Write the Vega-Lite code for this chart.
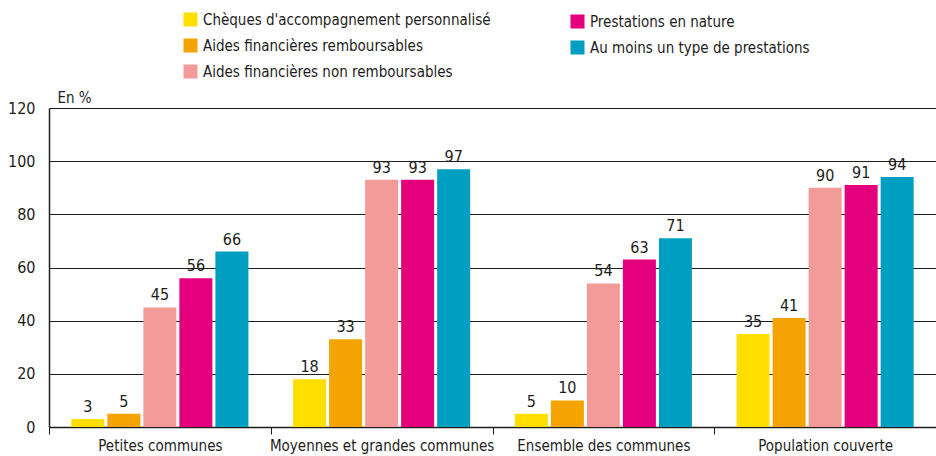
{
  "$schema": "https://vega.github.io/schema/vega-lite/v6.json",
  "width": 887,
  "height": 319,
  "autosize": {"type": "none"},
  "padding": {"left": 49, "top": 108, "right": 0, "bottom": 29},
  "background": "white",
  "config": {
    "view": {"stroke": null},
    "font": "DejaVu Sans Condensed, sans-serif",
    "axis": {"labelFont": "DejaVu Sans Condensed, sans-serif", "labelFontSize": 16, "labelColor": "#1d1d1b", "titleFont": "DejaVu Sans Condensed, sans-serif", "titleColor": "#1d1d1b", "labelLimit": 0},
    "legend": {"labelFont": "DejaVu Sans Condensed, sans-serif", "labelFontSize": 15, "labelColor": "#1d1d1b", "symbolType": "square", "symbolSize": 196, "symbolStrokeWidth": 0, "rowPadding": 10, "labelOffset": 5, "title": null, "labelLimit": 400}
  },
  "data": {
    "values": [
      {"groupe": "Petites communes", "serie": "Chèques d'accompagnement personnalisé", "valeur": 3},
      {"groupe": "Petites communes", "serie": "Aides financières remboursables", "valeur": 5},
      {"groupe": "Petites communes", "serie": "Aides financières non remboursables", "valeur": 45},
      {"groupe": "Petites communes", "serie": "Prestations en nature", "valeur": 56},
      {"groupe": "Petites communes", "serie": "Au moins un type de prestations", "valeur": 66},
      {"groupe": "Moyennes et grandes communes", "serie": "Chèques d'accompagnement personnalisé", "valeur": 18},
      {"groupe": "Moyennes et grandes communes", "serie": "Aides financières remboursables", "valeur": 33},
      {"groupe": "Moyennes et grandes communes", "serie": "Aides financières non remboursables", "valeur": 93},
      {"groupe": "Moyennes et grandes communes", "serie": "Prestations en nature", "valeur": 93},
      {"groupe": "Moyennes et grandes communes", "serie": "Au moins un type de prestations", "valeur": 97},
      {"groupe": "Ensemble des communes", "serie": "Chèques d'accompagnement personnalisé", "valeur": 5},
      {"groupe": "Ensemble des communes", "serie": "Aides financières remboursables", "valeur": 10},
      {"groupe": "Ensemble des communes", "serie": "Aides financières non remboursables", "valeur": 54},
      {"groupe": "Ensemble des communes", "serie": "Prestations en nature", "valeur": 63},
      {"groupe": "Ensemble des communes", "serie": "Au moins un type de prestations", "valeur": 71},
      {"groupe": "Population couverte", "serie": "Chèques d'accompagnement personnalisé", "valeur": 35},
      {"groupe": "Population couverte", "serie": "Aides financières remboursables", "valeur": 41},
      {"groupe": "Population couverte", "serie": "Aides financières non remboursables", "valeur": 90},
      {"groupe": "Population couverte", "serie": "Prestations en nature", "valeur": 91},
      {"groupe": "Population couverte", "serie": "Au moins un type de prestations", "valeur": 94}
    ]
  },
  "encoding": {
    "x": {
      "field": "groupe", "type": "nominal",
      "sort": ["Petites communes", "Moyennes et grandes communes", "Ensemble des communes", "Population couverte"],
      "scale": {"paddingInner": 0, "paddingOuter": 0},
      "axis": {"title": null, "labelAngle": 0, "labelFontSize": 15, "tickBand": "extent", "tickSize": 7, "tickColor": "#1d1d1b", "domainColor": "#1d1d1b", "domainWidth": 1.5, "labelPadding": 4, "grid": false}
    },
    "xOffset": {
      "field": "serie", "type": "nominal",
      "scale": {"domain": ["Chèques d'accompagnement personnalisé", "Aides financières remboursables", "Aides financières non remboursables", "Prestations en nature", "Au moins un type de prestations"], "paddingInner": 0.083, "paddingOuter": 0.62}
    },
    "y": {
      "field": "valeur", "type": "quantitative",
      "scale": {"domain": [0, 120], "nice": false},
      "axis": {"values": [0, 20, 40, 60, 80, 100, 120], "grid": true, "gridColor": "#1d1d1b", "gridWidth": 1, "tickSize": 0, "labelPadding": 14, "domainColor": "#1d1d1b", "domainWidth": 1.5, "title": "En %", "titleAngle": 0, "titleAlign": "left", "titleBaseline": "bottom", "titleX": 8, "titleY": -3, "titleFontSize": 15, "titleFontWeight": "normal"}
    }
  },
  "layer": [
    {
      "transform": [{"filter": {"field": "serie", "oneOf": ["Chèques d'accompagnement personnalisé", "Aides financières remboursables", "Aides financières non remboursables"]}}],
      "mark": {"type": "bar"},
      "encoding": {
        "color": {
          "field": "serie", "type": "nominal",
          "scale": {"domain": ["Chèques d'accompagnement personnalisé", "Aides financières remboursables", "Aides financières non remboursables"], "range": ["#FFDE00", "#F4A300", "#F29B98"]},
          "legend": {"orient": "none", "legendX": 134, "legendY": -96, "direction": "vertical"}
        }
      }
    },
    {
      "transform": [{"filter": {"field": "serie", "oneOf": ["Prestations en nature", "Au moins un type de prestations"]}}],
      "mark": {"type": "bar"},
      "encoding": {
        "color": {
          "field": "serie", "type": "nominal",
          "scale": {"domain": ["Prestations en nature", "Au moins un type de prestations"], "range": ["#E4007C", "#009FC2"]},
          "legend": {"orient": "none", "legendX": 521, "legendY": -94, "direction": "vertical"}
        }
      }
    },
    {
      "mark": {"type": "text", "baseline": "bottom", "dy": -4, "fontSize": 16, "color": "#1d1d1b"},
      "encoding": {"text": {"field": "valeur", "type": "quantitative"}}
    }
  ],
  "resolve": {"scale": {"color": "independent"}, "legend": {"color": "independent"}}
}
